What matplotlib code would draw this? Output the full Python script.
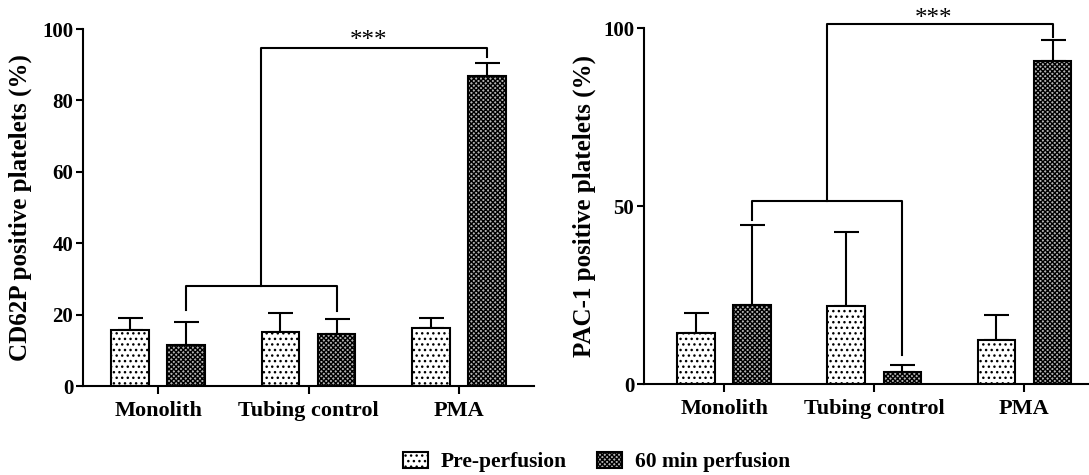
import matplotlib.pyplot as plt
import matplotlib.patches as mpatches
import numpy as np

plt.rcParams['font.family'] = 'Liberation Serif'
plt.rcParams['font.weight'] = 'bold'
plt.rcParams['hatch.linewidth'] = 1.0

groups = ['Monolith', 'Tubing control', 'PMA']
series = ['Pre-perfusion', '60 min perfusion']

# CD62P (%)
cd62p_pre = [15.7, 15.2, 16.3]
cd62p_pre_err = [3.3, 5.2, 2.7]
cd62p_60 = [11.5, 14.5, 86.8]
cd62p_60_err = [6.5, 4.2, 3.8]

# PAC-1 (%)
pac1_pre = [14.4, 22.0, 12.4]
pac1_pre_err = [5.5, 20.6, 7.0]
pac1_60 = [22.2, 3.5, 90.6]
pac1_60_err = [22.5, 1.7, 6.1]

width = 0.25
off = 0.187
dots = '...'
checks = 'xxxxxxx'
check_face = '#b4b4b4'


def draw_panel(ax, pre, pre_err, post, post_err, yticks, ylabel, pad):
    x = np.arange(len(groups))
    ax.bar(x - off, pre, width, facecolor='white', edgecolor='black',
           linewidth=1.5, hatch=dots, zorder=2)
    ax.bar(x + off, post, width, facecolor=check_face, edgecolor='black',
           linewidth=1.5, hatch=checks, zorder=2)
    ax.errorbar(x - off, pre, yerr=[np.zeros(3), pre_err], fmt='none',
                ecolor='black', elinewidth=1.5, capsize=9, capthick=1.5, zorder=1)
    ax.errorbar(x + off, post, yerr=[np.zeros(3), post_err], fmt='none',
                ecolor='black', elinewidth=1.5, capsize=9, capthick=1.5, zorder=1)
    ax.set_ylim(0, 100)
    ax.set_yticks(yticks)
    ax.set_xticks(x)
    ax.set_xticklabels(groups, fontsize=16, fontweight='bold')
    ax.tick_params(axis='y', labelsize=15, width=1.5, length=5, pad=2)
    ax.tick_params(axis='x', width=1.5, length=6, pad=5)
    ax.set_ylabel(ylabel, fontsize=18, fontweight='bold', labelpad=pad)
    for s in ['top', 'right']:
        ax.spines[s].set_visible(False)
    for s in ['left', 'bottom']:
        ax.spines[s].set_linewidth(1.5)


def bracket(ax, x0, x1, y, d0, d1):
    ax.plot([x0, x0, x1, x1], [d0, y, y, d1], color='black', lw=1.5,
            clip_on=False, zorder=3)


fig = plt.figure(figsize=(10.89, 4.75), dpi=100)

# left panel
ax1 = fig.add_axes([83 / 1089, 89 / 475, 451 / 1089, 357 / 475])
draw_panel(ax1, cd62p_pre, cd62p_pre_err, cd62p_60, cd62p_60_err,
           [0, 20, 40, 60, 80, 100], 'CD62P positive platelets (%)', 7)
ax1.set_xlim(-0.5, 2.5)
bracket(ax1, off, 1 + off, 28.0, 21.3, 21.0)
mid = 0.5 + off
bracket(ax1, mid, 2 + off, 94.7, 28.0, 92.2)
ax1.text((mid + 2 + off) / 2 - 0.04, 93.6, '***', ha='center', va='bottom',
         fontsize=18, fontweight='normal')

# right panel
ax2 = fig.add_axes([644 / 1089, 91 / 475, 445 / 1089, 356 / 475])
draw_panel(ax2, pac1_pre, pac1_pre_err, pac1_60, pac1_60_err,
           [0, 50, 100], 'PAC-1 positive platelets (%)', 5)
ax2.set_xlim(-0.533, 2.43)
bracket(ax2, off, 1 + off, 51.5, 46.1, 8.1)
bracket(ax2, mid, 2 + off, 101.2, 51.5, 97.6)
ax2.text((mid + 2 + off) / 2 - 0.04, 99.3, '***', ha='center', va='bottom',
         fontsize=18, fontweight='normal')

handles = [mpatches.Patch(facecolor='white', edgecolor='black', hatch=dots, linewidth=1.5),
           mpatches.Patch(facecolor=check_face, edgecolor='black', hatch=checks, linewidth=1.5)]
fig.legend(handles, series, loc='center left', bbox_to_anchor=(403 / 1089, 13 / 475),
           ncol=2, frameon=False, handlelength=1.15, handleheight=0.8,
           columnspacing=1.4, handletextpad=0.6, borderpad=0, borderaxespad=0,
           prop={'weight': 'bold', 'size': 15.5})

fig.savefig('out.png', dpi=100)
